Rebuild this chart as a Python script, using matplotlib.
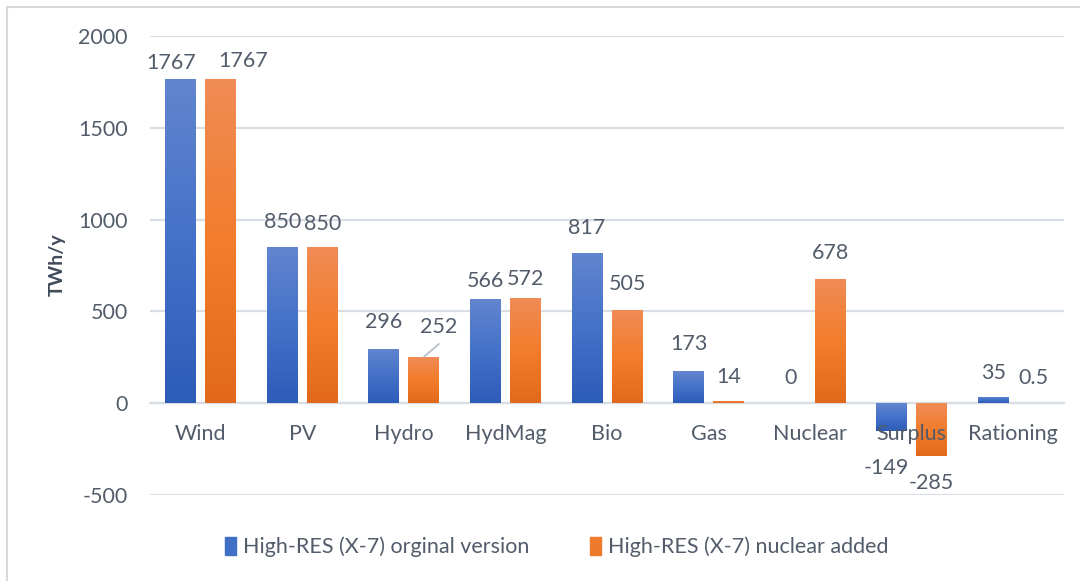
import matplotlib
matplotlib.use("Agg")
import matplotlib.pyplot as plt
import numpy as np
from matplotlib.patches import Rectangle
from matplotlib.colors import LinearSegmentedColormap

categories = ["Wind", "PV", "Hydro", "HydMag", "Bio", "Gas", "Nuclear", "Surplus", "Rationing"]
original = [1767, 850, 296, 566, 817, 173, 0, -149, 35]
nuclear_added = [1767, 850, 252, 572, 505, 14, 678, -285, 0.5]
original_labels = ["1767", "850", "296", "566", "817", "173", "0", "-149", "35"]
nuclear_labels = ["1767", "850", "252", "572", "505", "14", "678", "-285", "0.5"]
series_names = ["High-RES (X-7) orginal version", "High-RES (X-7) nuclear added"]
yticks = [-500, 0, 500, 1000, 1500, 2000]

# label offsets (pixels: dx, dy) relative to bar end
orig_off = [(-10, 16), (0, 25), (0, 27), (0, 18), (0, 25), (0, 27), (0, 25), (-5, -37), (0, 24)]
nuc_off = [(22, 18), (0, 23), (15, 30), (0, 19), (0, 26), (0, 24), (0, 26), (0, -27), (0, 25)]

TXT = "#525c6b"
GRID = "#d9dde4"
FONT = "Lato"
FS = 15.5

plt.rcParams["font.family"] = [FONT, "DejaVu Sans"]

fig = plt.figure(figsize=(10.8, 5.81), dpi=100)
ax = fig.add_axes([150/1080, 86/581, 914/1080, 459/581])

x = np.arange(len(categories))
w = 0.305
off = 0.197

blue_cmap = LinearSegmentedColormap.from_list("b", ["#2d5cb9", "#4472c8", "#6285cf"])
orange_cmap = LinearSegmentedColormap.from_list("o", ["#e2691b", "#f27d2c", "#f08c56"])
grad = np.linspace(0, 1, 256).reshape(-1, 1)

def grad_bars(bars, cmap):
    for b in bars:
        x0, y0 = b.get_x(), b.get_y()
        x1, y1 = x0 + b.get_width(), y0 + b.get_height()
        lo, hi = min(y0, y1), max(y0, y1)
        if hi - lo <= 0:
            continue
        im = ax.imshow(grad, cmap=cmap, extent=(x0, x1, lo, hi), origin="lower",
                       aspect="auto", zorder=3, interpolation="bilinear")
        im.set_clip_path(b)

bars1 = ax.bar(x - off, original, w, color="#4472c4", zorder=2, linewidth=0)
bars2 = ax.bar(x + off, nuclear_added, w, color="#ed7d31", zorder=2, linewidth=0)
grad_bars(bars1, blue_cmap)
grad_bars(bars2, orange_cmap)
ax.set_xlim(-0.5, len(categories) - 0.5)
ax.set_ylim(-500, 2000)

# value labels
px = 0.72
for xs, vals, labs, offs in [(x - off, original, original_labels, orig_off),
                             (x + off, nuclear_added, nuclear_labels, nuc_off)]:
    for xi, v, lab, (dx, dy) in zip(xs, vals, labs, offs):
        ax.annotate(lab, (xi, v), xytext=(dx * px, dy * px), textcoords="offset points",
                    ha="center", va="center", fontsize=FS, color=TXT, zorder=5)

# leader line for Hydro (nuclear added)
hx = x[2] + off
ax.annotate("", (hx, nuclear_added[2]), xytext=(15 * px, 13 * px), textcoords="offset points",
            arrowprops=dict(arrowstyle="-", color="#b5bfcc", lw=1.3, shrinkA=0, shrinkB=0), zorder=4)

# axes styling
ax.set_yticks(yticks)
ax.set_yticklabels([str(t) for t in yticks])
ax.grid(axis="y", color=GRID, linewidth=1.6, zorder=0)
ax.set_axisbelow(True)
ax.xaxis.set_zorder(6)
for s in ["top", "right", "left"]:
    ax.spines[s].set_visible(False)
ax.spines["bottom"].set_position(("data", 0))
ax.spines["bottom"].set_color(GRID)
ax.spines["bottom"].set_linewidth(1.6)
ax.spines["bottom"].set_zorder(1)
ax.set_xticks(x)
ax.set_xticklabels(categories)
ax.tick_params(axis="x", length=0, pad=15, labelsize=FS, labelcolor=TXT)
ax.tick_params(axis="y", length=0, pad=16, labelsize=FS, labelcolor=TXT)

fig.text(57/1080, 1 - 265/581, "TWh/y", rotation=90, ha="center", va="center",
         fontsize=FS - 1.5, fontweight="bold", color="#404a5a")

# legend
handles = [Rectangle((0, 0), 1, 1, color="#3f6fc6"), Rectangle((0, 0), 1, 1, color="#ee7a2e")]
fig.legend(handles, series_names, loc="center", bbox_to_anchor=(557/1080, 1 - 547/581),
           ncol=2, frameon=False, fontsize=FS, labelcolor=TXT, handlelength=0.5,
           handleheight=0.9, handletextpad=0.35, columnspacing=2.8)

# outer frame
fig.add_artist(Rectangle((7/1080, -0.1), 1.2, (581 - 7)/581 + 0.1, transform=fig.transFigure,
                         fill=False, ec="#d9d9d9", lw=1.5))

fig.savefig("out.png", dpi=100, facecolor="white")
